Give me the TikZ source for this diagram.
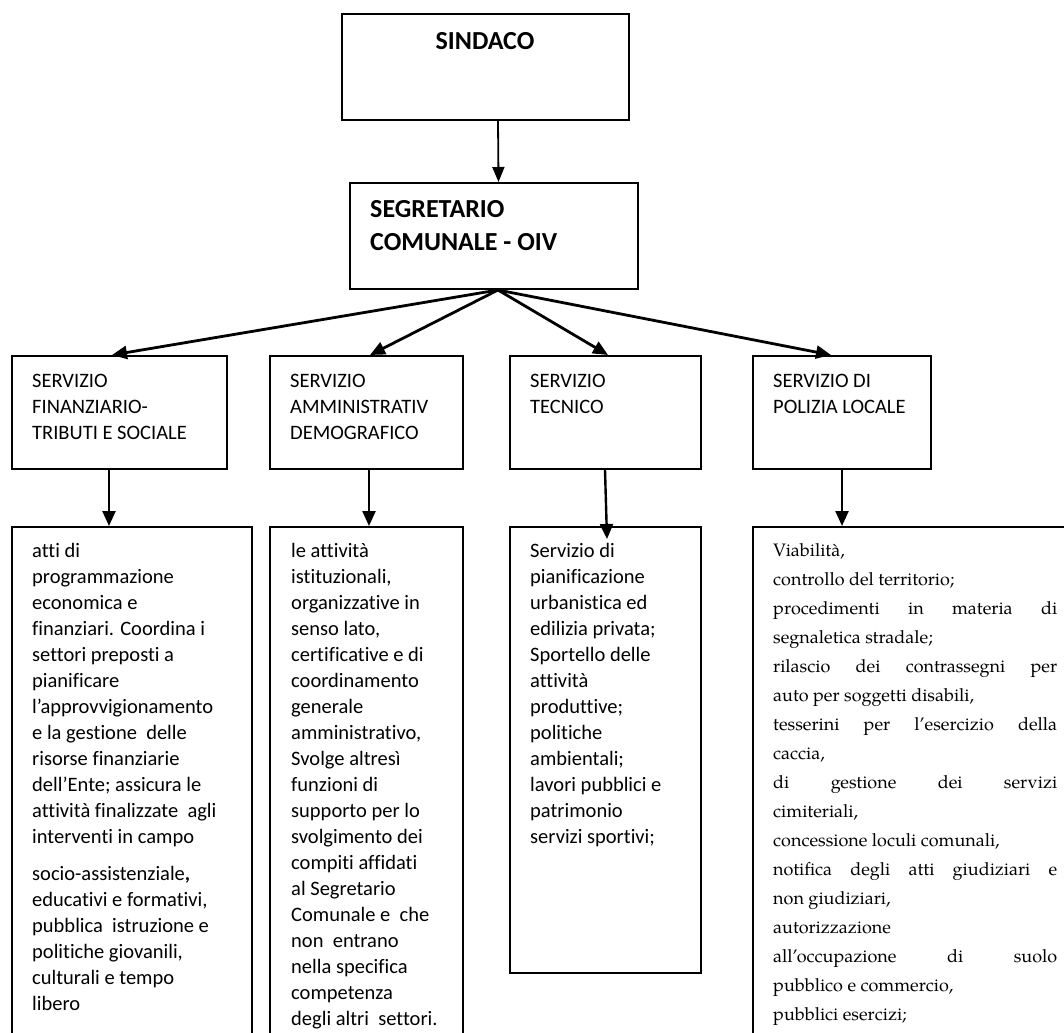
\documentclass[tikz,border=0pt]{standalone}
\usepackage{fontspec}
\setmainfont{Carlito}[Ligatures={TeX,NoCommon,NoContextual},Contextuals={NoAlternate}]
\newfontfamily\palfont{TeX Gyre Pagella}
\usetikzlibrary{arrows.meta}
\newcommand{\jl}[1]{\makebox[284pt][s]{#1}}
\begin{document}
\begin{tikzpicture}[x=1pt,y=-1pt,
  box/.style={draw=black,line width=2pt,rectangle,inner sep=0pt,anchor=north west},
  txt/.style={anchor=north west,align=left,inner sep=0pt},
  calib/.style={font=\fontsize{20.5}{26}\selectfont},
  boldt/.style={font=\fontsize{26}{33}\selectfont\bfseries},
  pal/.style={font=\palfont\fontsize{18}{29}\selectfont},
  fan/.style={line width=2.8pt,-{Triangle[length=15pt,width=13pt]}},
  down/.style={line width=2.4pt,-{Triangle[length=15pt,width=13pt]}},
  top/.style={line width=1.8pt,-{Triangle[length=15pt,width=12pt]}}]
\path[use as bounding box,fill=white] (0,0) rectangle (1064,1032);

% top boxes
\node[box,minimum width=287pt,minimum height=106pt] (sind) at (341,13) {};
\node[boldt,anchor=base,inner sep=0pt] (sindt) at (485,50) {SINDACO};
\node[box,minimum width=288pt,minimum height=106pt] (seg) at (349,182) {};
\node[txt,boldt] (segt) at (370,193.9) {\strut SEGRETARIO\\COMUNALE - OIV};

% service boxes
\node[box,minimum width=215pt,minimum height=113pt] (s1) at (11,355) {};
\node[box,minimum width=193pt,minimum height=113pt] (s2) at (269,355) {};
\node[box,minimum width=191pt,minimum height=113pt] (s3) at (509,355) {};
\node[box,minimum width=178pt,minimum height=113pt] (s4) at (752,355) {};
\node[txt,calib] (s1t) at (32,368.8) {\strut SERVIZIO\\FINANZIARIO-\\TRIBUTI E SOCIALE};
\node[txt,calib] (s2t) at (290,368.8) {\strut SERVIZIO\\AMMINISTRATIV\\DEMOGRAFICO};
\node[txt,calib] (s3t) at (530,368.8) {\strut SERVIZIO\\TECNICO};
\node[txt,calib] (s4t) at (773,368.8) {\strut SERVIZIO DI\\POLIZIA LOCALE};

% lower boxes
\node[box,minimum width=240pt,minimum height=520pt] (l1) at (11,526) {};
\node[box,minimum width=193pt,minimum height=520pt] (l2) at (269,526) {};
\node[box,minimum width=191pt,minimum height=446pt] (l3) at (509,526) {};
\node[box,minimum width=323pt,minimum height=520pt] (l4) at (752,526) {};

\node[txt,calib] (l1t) at (32,538.8) {\strut atti di\\
programmazione\\
economica e\\
finanziari. Coordina i\\
settori preposti a\\
pianificare\\
l’approvvigionamento\\
e la gestione\ \ delle\\
risorse finanziarie\\
dell’Ente; assicura le\\
attività finalizzate\ \ agli\\
interventi in campo\\[11pt]
socio-assistenziale{\bfseries ,}\\
educativi e formativi,\\
pubblica\ \ istruzione e\\
politiche giovanili,\\
culturali e tempo\\
libero};

\node[txt,calib] (l2t) at (291,538.8) {\strut le attività\\
istituzionali,\\
organizzative in\\
senso lato,\\
certificative e di\\
coordinamento\\
generale\\
amministrativo,\\
Svolge altresì\\
funzioni di\\
supporto per lo\\
svolgimento dei\\
compiti affidati\\
al Segretario\\
Comunale e\ \ che\\
non\ \ entrano\\
nella specifica\\
competenza\\
degli altri\ \ settori.};

\node[txt,calib] (l3t) at (530,538.8) {\strut Servizio di\\
pianificazione\\
urbanistica ed\\
edilizia privata;\\
Sportello delle\\
attività\\
produttive;\\
politiche\\
ambientali;\\
lavori pubblici e\\
patrimonio\\
servizi sportivi;};

\node[txt,pal] (l4t) at (773,535.7) {\strut Viabilità,\\
controllo del territorio;\\
\jl{procedimenti in materia di}\\
segnaletica stradale;\\
\jl{rilascio dei contrassegni per}\\
auto per soggetti disabili,\\
\jl{tesserini per l’esercizio della}\\
caccia,\\
\jl{di gestione dei servizi}\\
cimiteriali,\\
concessione loculi comunali,\\
\jl{notifica degli atti giudiziari e}\\
non giudiziari,\\
autorizzazione\\
\jl{all’occupazione di suolo}\\
pubblico e commercio,\\
pubblici esercizi;};

% connectors
\draw[top] ([xshift=12.5pt]sind.south) -- ([xshift=4.5pt]seg.north);
\coordinate (apex) at ([xshift=4pt]seg.south);
\draw[fan] (apex) -- ([xshift=-7.5pt]s1.north);
\draw[fan] (apex) -- ([xshift=3.5pt]s2.north);
\draw[fan] (apex) -- ([xshift=2.5pt]s3.north);
\draw[fan] (apex) -- ([xshift=-11pt]s4.north);

\coordinate (d1) at ([xshift=-10.5pt]s1.south);
\coordinate (d2) at ([xshift=2.5pt]s2.south);
\coordinate (d3) at ([xshift=-0.5pt]s3.south);
\coordinate (d4) at (s4.south);
\coordinate (e3) at ([xshift=1.5pt,yshift=-13pt]l3.north);
\draw[down] (d1) -- (d1 |- l1.north);
\draw[down] (d2) -- (d2 |- l2.north);
\draw[down] (d3) -- (e3);
\draw[down] (d4) -- (d4 |- l4.north);
\end{tikzpicture}
\end{document}
